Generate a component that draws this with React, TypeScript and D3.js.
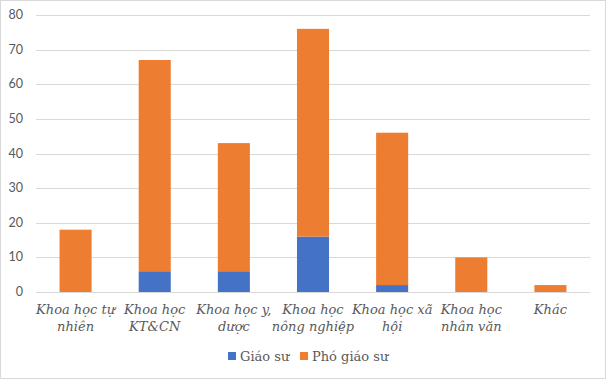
import React from "react";
import * as d3 from "d3";

const categories: string[][] = [
  ["Khoa học tự", "nhiên"],
  ["Khoa học", "KT&CN"],
  ["Khoa học y,", "dược"],
  ["Khoa học", "nông nghiệp"],
  ["Khoa học xã", "hội"],
  ["Khoa học", "nhân văn"],
  ["Khác"],
];
const giaoSu: number[] = [0, 6, 6, 16, 2, 0, 0];
const phoGiaoSu: number[] = [18, 61, 37, 60, 44, 10, 2];
const yTicks: number[] = [0, 10, 20, 30, 40, 50, 60, 70, 80];
const seriesNames: string[] = ["Giáo sư", "Phó giáo sư"];
const colors: string[] = ["#4472C4", "#ED7D31"];

const W = 606;
const H = 379;
const plotLeft = 36;
const plotRight = 590;
const plotTop = 15;
const plotBottom = 292;

export default function App() {
  const x = d3
    .scaleBand<number>()
    .domain(d3.range(categories.length))
    .range([plotLeft, plotRight])
    .paddingInner(0.595)
    .paddingOuter(0.2975);
  const y = d3.scaleLinear().domain([0, 80]).range([plotBottom, plotTop]);

  const stacked = d3
    .stack<number>()
    .keys([0, 1] as any)
    .value((i: number, k: any) => (k === 0 ? giaoSu[i] : phoGiaoSu[i]))(
    d3.range(categories.length)
  );

  const serif = "DejaVu Serif";
  return (
    <svg
      width={W}
      height={H}
      style={{ position: "absolute", left: 0, top: 0, background: "#fff" }}
    >
      <rect x={0.5} y={0.5} width={W - 1} height={H - 1} fill="#fff" stroke="#D9D9D9" />
      {yTicks.map((t) => (
        <g key={t}>
          <line
            x1={plotLeft}
            x2={plotRight}
            y1={Math.round(y(t)) + 0.5}
            y2={Math.round(y(t)) + 0.5}
            stroke="#D9D9D9"
            strokeWidth={1}
          />
          <text
            x={23}
            y={y(t) + 4}
            textAnchor="end"
            fontFamily="Lato, sans-serif"
            fontSize={12.5}
            fill="#595959"
          >
            {t}
          </text>
        </g>
      ))}
      {stacked.map((layer, si) => (
        <g key={si} fill={colors[si]}>
          {layer.map((d, i) =>
            d[1] - d[0] > 0 ? (
              <rect
                key={i}
                x={x(i)}
                width={x.bandwidth()}
                y={y(d[1])}
                height={y(d[0]) - y(d[1])}
              />
            ) : null
          )}
        </g>
      ))}
      {categories.map((lines, i) => (
        <text
          key={i}
          x={(x(i) as number) + x.bandwidth() / 2}
          y={314}
          textAnchor="middle"
          fontFamily={serif}
          fontStyle="italic"
          fontSize={13}
          fill="#595959"
        >
          {lines.map((l, j) => (
            <tspan key={j} x={(x(i) as number) + x.bandwidth() / 2} dy={j === 0 ? 0 : 17}>
              {l}
            </tspan>
          ))}
        </text>
      ))}
      <rect x={228} y={352} width={8} height={8} fill={colors[0]} />
      <text x={240} y={361} fontFamily={serif} fontSize={13} fill="#595959">{seriesNames[0]}</text>
      <rect x={300} y={352} width={8} height={8} fill={colors[1]} />
      <text x={312} y={361} fontFamily={serif} fontSize={13} fill="#595959">{seriesNames[1]}</text>
    </svg>
  );
}
